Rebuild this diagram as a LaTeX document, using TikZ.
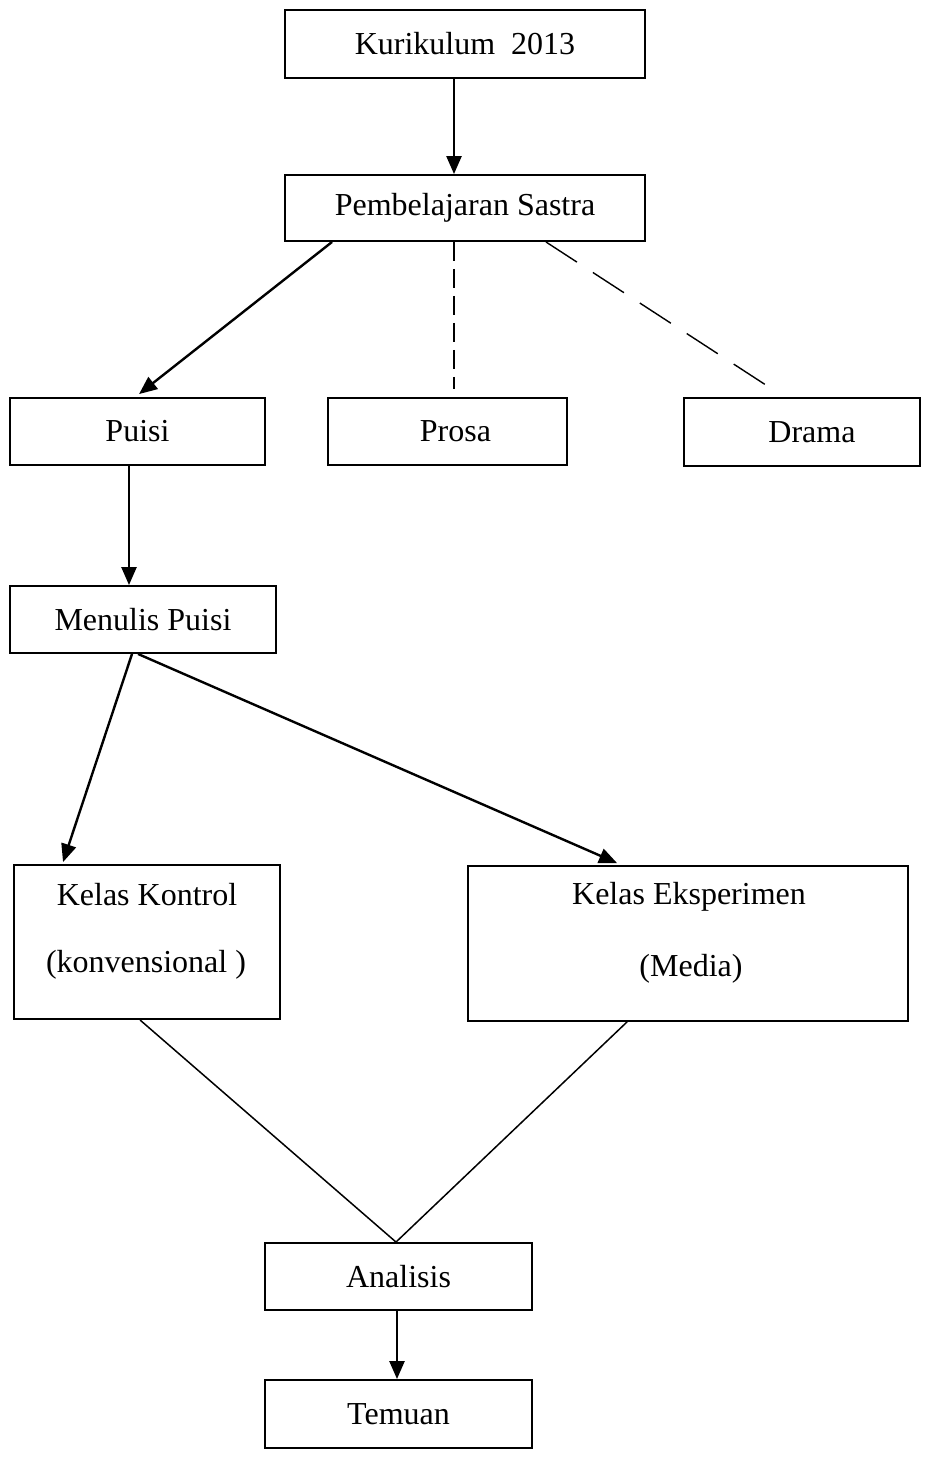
\documentclass[tikz,border=0pt]{standalone}
\usepackage{fontspec}
\setmainfont{Liberation Serif}
\usetikzlibrary{arrows.meta}
\begin{document}
\begin{tikzpicture}[x=1pt,y=-1pt,
  box/.style={draw,line width=1.9pt,inner sep=0pt,font=\fontsize{32}{38}\selectfont},
  arr/.style={line width=2.4pt,-{Triangle[length=18pt,width=15pt]}},
  dshv/.style={line width=1.4pt,dash pattern=on 19pt off 8pt},
  dshd/.style={line width=1.4pt,dash pattern=on 37pt off 19pt},
  plain/.style={line width=1.5pt},
  lbl/.style={font=\fontsize{32}{38}\selectfont,inner sep=0pt}]
\useasboundingbox (0,0) rectangle (937,1461);
\fill[white] (0,0) rectangle (937,1461);

\node[box,minimum width=360pt,minimum height=68pt] (kur) at (465,44) {Kurikulum\ \ 2013};
\node[box,minimum width=360pt,minimum height=66pt] (pem) at (465,208) {Pembelajaran Sastra};
\node[box,minimum width=255pt,minimum height=67pt] (puisi) at (137.5,431.5) {Puisi};
\node[box,minimum width=239pt,minimum height=67pt] (prosa) at (447.5,431.5) {\hspace*{16pt}Prosa};
\node[box,minimum width=236pt,minimum height=68pt] (drama) at (802,432) {\hspace*{20pt}Drama};
\node[box,minimum width=266pt,minimum height=67pt] (menulis) at (143,619.5) {Menulis Puisi};
\node[box,minimum width=266pt,minimum height=154pt] (kontrol) at (147,942) {};
\node[lbl] (kontrolA) at (147,895) {Kelas Kontrol};
\node[lbl] (kontrolB) at (146,965) {(konvensional )};
\node[box,minimum width=440pt,minimum height=155pt] (eksp) at (688,943.5) {};
\node[lbl] (ekspA) at (689,897) {Kelas Eksperimen};
\node[lbl] (ekspB) at (691,969) {(Media)};
\node[box,minimum width=267pt,minimum height=67pt] (analisis) at (398.5,1276.5) {Analisis};
\node[box,minimum width=267pt,minimum height=68pt] (temuan) at (398.5,1414) {Temuan};

\draw[arr] ([xshift=-11pt]kur.south) -- ([xshift=-11pt]pem.north);
\draw[arr] ([xshift=48pt]pem.south west) -- ([xshift=130pt,yshift=3pt]puisi.north west);
\draw[dshv] ([xshift=-11pt]pem.south) -- ([xshift=6.5pt,yshift=8pt]prosa.north);
\draw[dshd] ([xshift=-100pt]pem.south east) -- ([xshift=89pt,yshift=8pt]drama.north west);
\draw[arr] ([xshift=-8.5pt]puisi.south) -- ([xshift=-14pt]menulis.north);
\draw[arr] ([xshift=-11pt]menulis.south) -- ([xshift=50pt,yshift=2pt]kontrol.north west);
\draw[arr] ([xshift=-5pt]menulis.south) -- ([xshift=150pt,yshift=2pt]eksp.north west);
\draw[plain] ([xshift=-7pt]kontrol.south) -- ([xshift=-2.5pt]analisis.north);
\draw[plain] ([xshift=-61pt]eksp.south) -- ([xshift=-2.5pt]analisis.north);
\draw[arr] ([xshift=-1.5pt]analisis.south) -- ([xshift=-1.5pt]temuan.north);
\end{tikzpicture}
\end{document}
